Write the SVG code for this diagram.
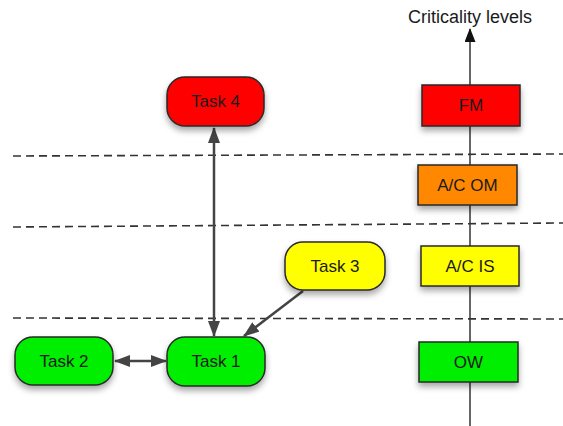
<svg xmlns="http://www.w3.org/2000/svg" width="563" height="426" viewBox="0 0 563 426">
  <defs>
    <style>
      .lbl { font-family: "Liberation Sans", Arial, sans-serif; font-size: 17px; fill: #1a1a1a; text-anchor: middle; dominant-baseline: central; }
      .task { stroke: #2a2a2a; stroke-width: 1.5; filter: url(#shadow); }
      .level { stroke: #2a2a2a; stroke-width: 1.5; filter: url(#shadow); }
      .dash { stroke: #333; stroke-width: 1.6; stroke-dasharray: 8 5; fill: none; }
      .edge { stroke: #444; stroke-width: 2.5; fill: none; }
      .axis { stroke: #333; stroke-width: 1.5; fill: none; }
    </style>
    <filter id="shadow" x="-20%" y="-20%" width="140%" height="160%">
      <feDropShadow dx="0" dy="4" stdDeviation="3" flood-color="#000" flood-opacity="0.35"/>
    </filter>
    <marker id="head" viewBox="0 0 16 12" refX="15" refY="6" markerWidth="16" markerHeight="12" orient="auto-start-reverse" markerUnits="userSpaceOnUse">
      <path d="M0,0 L16,6 L0,12 z" fill="#444"/>
    </marker>
    <marker id="axisHead" viewBox="0 0 14 11" refX="13" refY="5.5" markerWidth="14" markerHeight="11" orient="auto" markerUnits="userSpaceOnUse">
      <path d="M0,0 L14,5.5 L0,11 z" fill="#111"/>
    </marker>
  </defs>

  <rect width="563" height="426" fill="#fff"/>

  <!-- level boundaries -->
  <g id="boundaries">
    <line class="dash" x1="13" y1="156" x2="563" y2="154"/>
    <line class="dash" x1="13" y1="227" x2="563" y2="223"/>
    <line class="dash" x1="13" y1="318" x2="563" y2="319"/>
  </g>

  <!-- criticality axis -->
  <g id="axis">
    <line class="axis" x1="470" y1="426" x2="470" y2="29" marker-end="url(#axisHead)"/>
    <text class="lbl" x="470" y="17" style="font-size:18px">Criticality levels</text>
  </g>

  <!-- connectors -->
  <g id="connectors">
    <line class="edge" x1="214" y1="128" x2="214" y2="336" marker-start="url(#head)" marker-end="url(#head)"/>
    <line class="edge" x1="115" y1="361" x2="166" y2="361" marker-start="url(#head)" marker-end="url(#head)"/>
    <line class="edge" x1="303" y1="291" x2="244" y2="336" marker-end="url(#head)"/>
  </g>

  <!-- tasks -->
  <g id="task4">
    <rect class="task" x="167" y="77" width="97" height="49" rx="18" fill="#ff0000"/>
    <text class="lbl" x="215.5" y="101.5">Task 4</text>
  </g>
  <g id="task3">
    <rect class="task" x="285" y="242" width="100" height="48" rx="18" fill="#ffff00"/>
    <text class="lbl" x="335" y="266">Task 3</text>
  </g>
  <g id="task2">
    <rect class="task" x="15" y="337" width="98" height="48" rx="18" fill="#00ee00"/>
    <text class="lbl" x="64" y="361">Task 2</text>
  </g>
  <g id="task1">
    <rect class="task" x="167" y="337" width="98" height="49" rx="18" fill="#00ee00"/>
    <text class="lbl" x="216" y="361.5">Task 1</text>
  </g>

  <!-- criticality levels -->
  <g id="levelFM">
    <rect class="level" x="422" y="85" width="98" height="41" fill="#ff0000"/>
    <text class="lbl" x="471" y="105.5">FM</text>
  </g>
  <g id="levelACOM">
    <rect class="level" x="418" y="165" width="99" height="40" fill="#ff8800"/>
    <text class="lbl" x="467.5" y="185">A/C OM</text>
  </g>
  <g id="levelACIS">
    <rect class="level" x="421" y="246" width="98" height="40" fill="#ffff00"/>
    <text class="lbl" x="470" y="266">A/C IS</text>
  </g>
  <g id="levelOW">
    <rect class="level" x="419" y="342" width="99" height="40" fill="#00ee00"/>
    <text class="lbl" x="468.5" y="362">OW</text>
  </g>
</svg>
